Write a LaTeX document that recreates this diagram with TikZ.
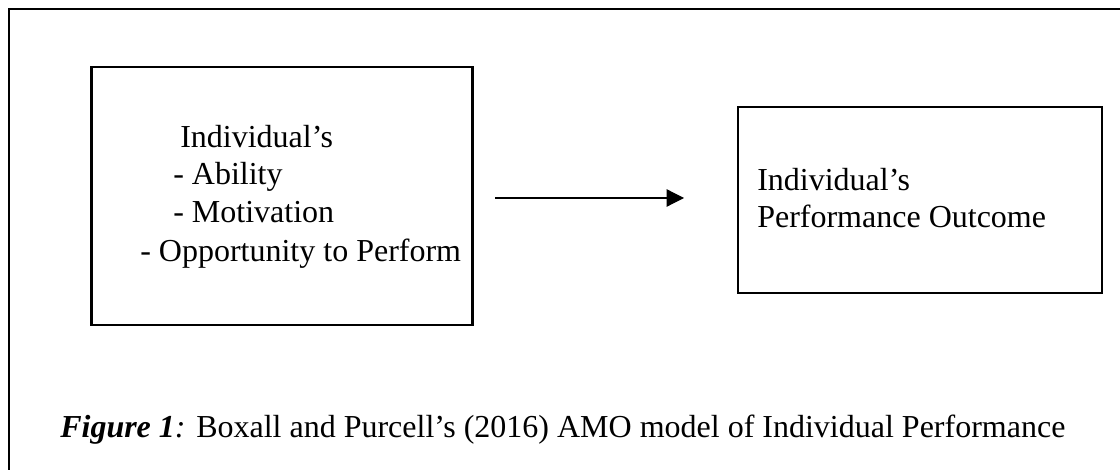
\documentclass[tikz,border=0pt]{standalone}
\usepackage{fontspec}
\setmainfont{Liberation Serif}
\usetikzlibrary{arrows.meta}
\tikzset{
  frame/.style={line width=1.8pt},
  boxnode/.style={draw, line width=1.8pt, inner sep=0pt},
  txt/.style={anchor=base west, inner sep=0pt, font=\fontsize{24pt}{30pt}\selectfont},
  flow/.style={line width=0.9pt, -{Triangle[length=13pt,width=13pt]}}
}
\begin{document}
\begin{tikzpicture}[x=0.75pt,y=-0.75pt]
\useasboundingbox (0,0) rectangle (1120,470);
% outer frame (open on right and bottom)
\draw[frame] (1120,9) -- (9,9) -- (9,470);
% boxes
\node[boxnode, minimum width=381*0.75pt, minimum height=258*0.75pt] (left) at (282,196) {};
\node[boxnode, minimum width=364*0.75pt, minimum height=186*0.75pt] (right) at (920,200) {};
% left box text
\node[txt] (l1) at (180,148) {Individual’s};
\node[txt] (l2) at (173,185) {- Ability};
\node[txt] (l3) at (173,223) {- Motivation};
\node[txt] (l4) at (140,262) {- Opportunity to Perform};
% right box text
\node[txt] (r1) at (757,191) {Individual’s};
\node[txt] (r2) at (757,228) {Performance Outcome};
% arrow
\coordinate (as) at (495,198);
\coordinate (ae) at (684,198);
\draw[flow] (as) -- (ae);
% caption
\node[txt] (cap) at (60,437) {\textbf{\textit{Figure 1}}\textit{:} Boxall and Purcell’s (2016) AMO model of Individual Performance};
\end{tikzpicture}
\end{document}
